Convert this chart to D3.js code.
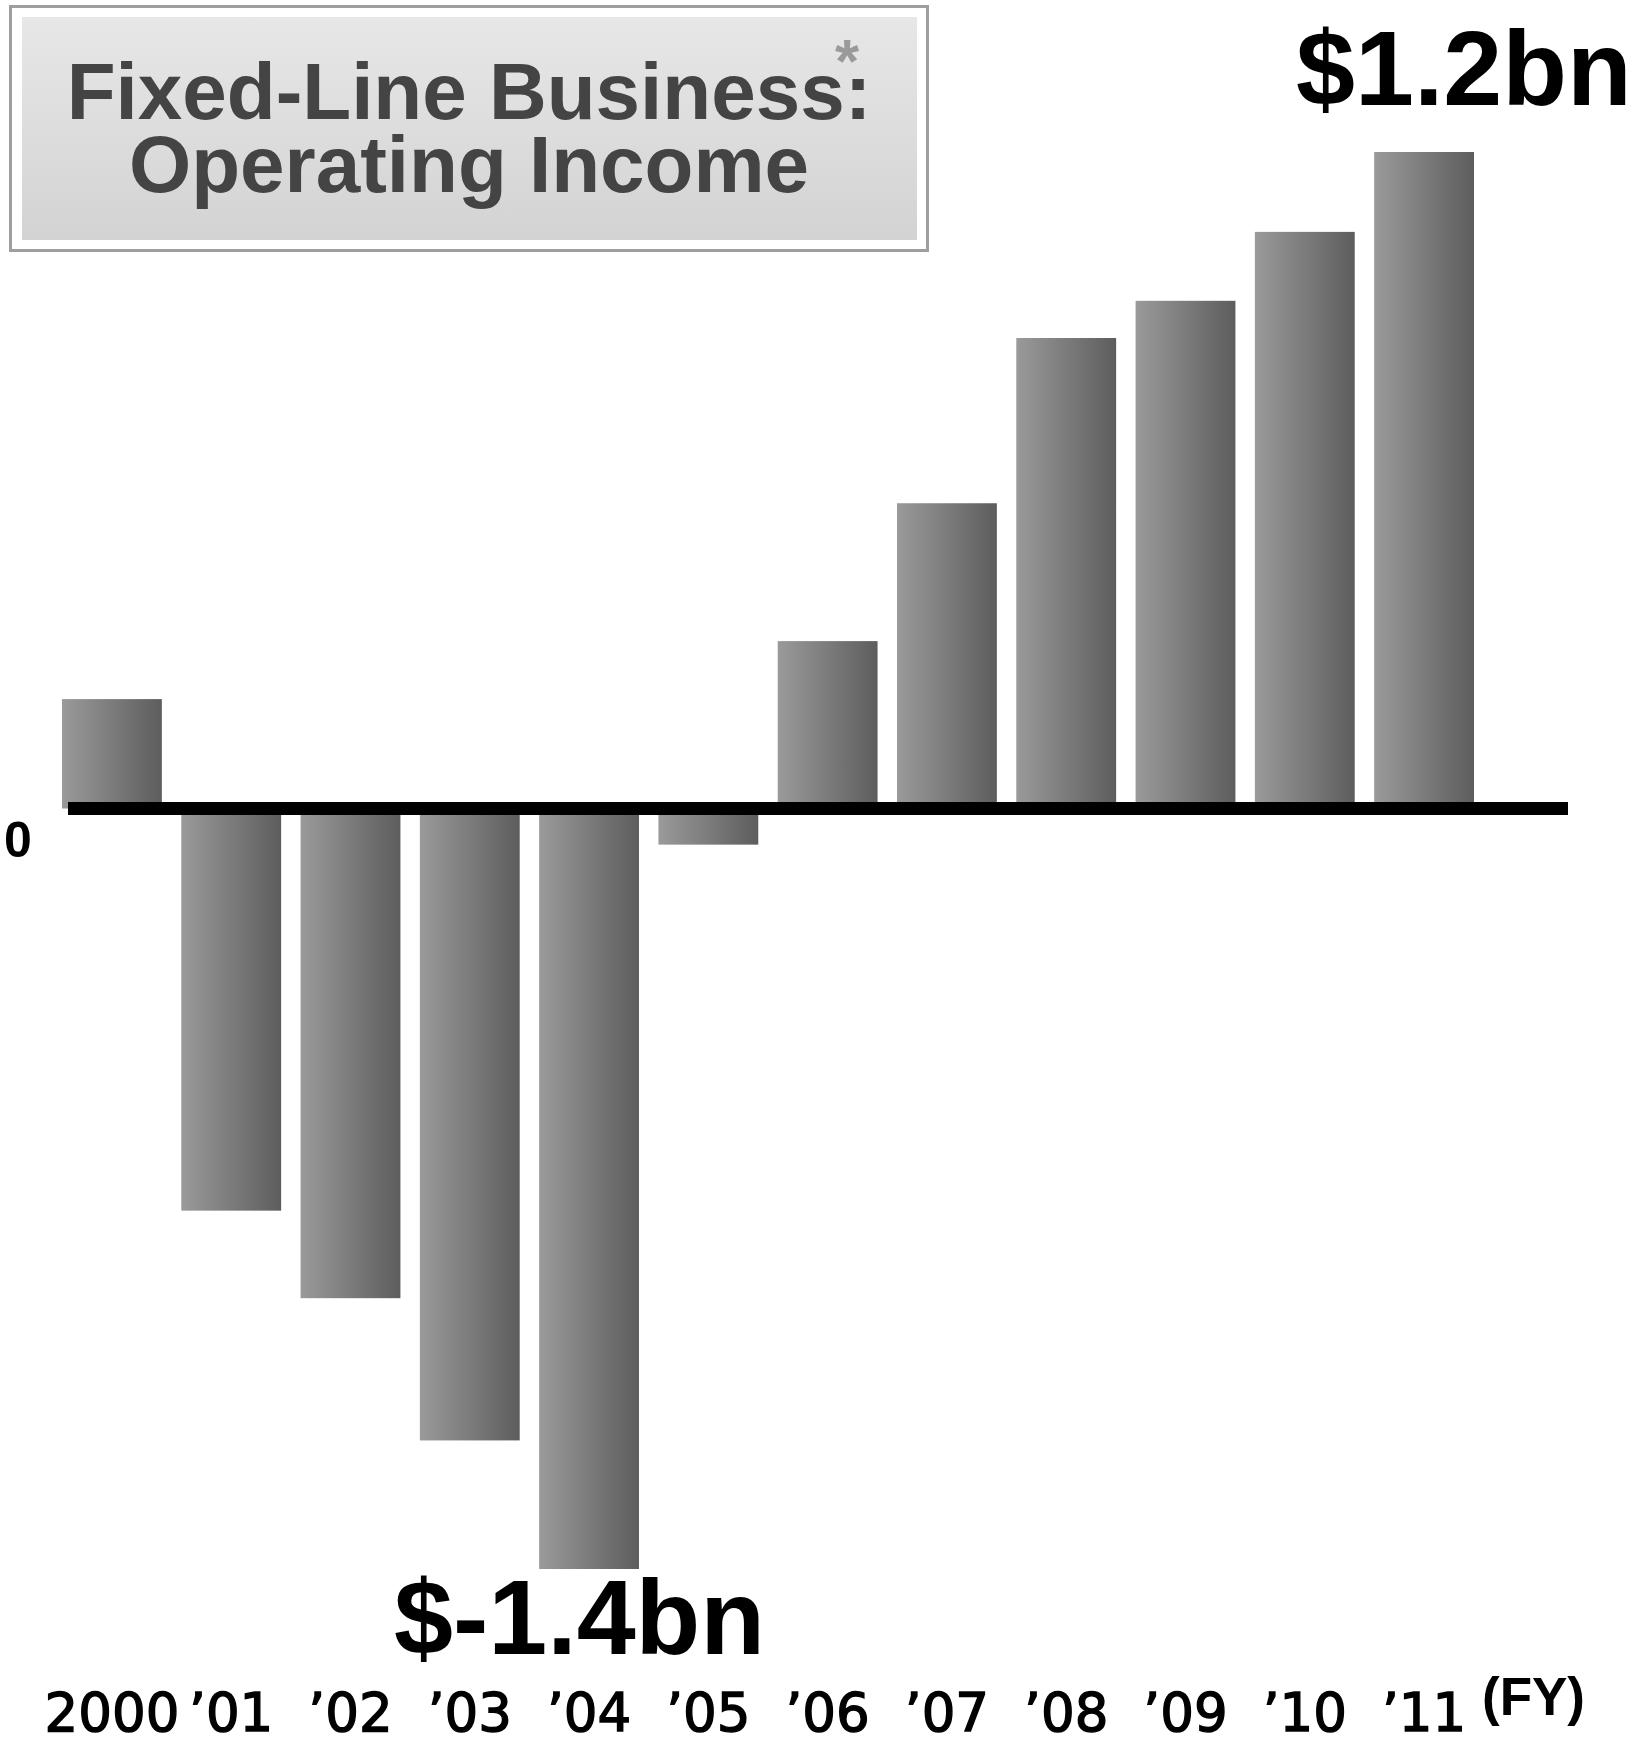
<!DOCTYPE html>
<html>
<head>
<meta charset="utf-8">
<script src="https://cdn.jsdelivr.net/npm/d3@7"></script>
<style>
  html, body { margin: 0; padding: 0; background: #ffffff; }
  svg { display: block; }
</style>
</head>
<body>
<svg id="chart" width="1639" height="1739"></svg>
<script>
// ---- data ----
const categories = ["2000", "\u201901", "\u201902", "\u201903", "\u201904", "\u201905",
                    "\u201906", "\u201907", "\u201908", "\u201909", "\u201910", "\u201911"];
const values = [0.20, -0.735, -0.895, -1.155, -1.39, -0.066, 0.306, 0.558, 0.86, 0.928, 1.054, 1.20];
const titleLines = ["Fixed-Line Business:", "Operating Income"];
const highLabel = "$1.2bn";
const lowLabel = "$-1.4bn";
const zeroLabel = "0";
const unitLabel = "(FY)";

// ---- drawing ----
const svg = d3.select("#chart");
const defs = svg.append("defs");

const barGrad = defs.append("linearGradient")
  .attr("id", "barGrad").attr("x1", "0").attr("x2", "1").attr("y1", "0").attr("y2", "0");
barGrad.append("stop").attr("offset", "0%").attr("stop-color", "#9a9a9a");
barGrad.append("stop").attr("offset", "100%").attr("stop-color", "#5d5d5d");

const boxGrad = defs.append("linearGradient")
  .attr("id", "boxGrad").attr("x1", "0").attr("x2", "0").attr("y1", "0").attr("y2", "1");
boxGrad.append("stop").attr("offset", "0%").attr("stop-color", "#e7e7e7");
boxGrad.append("stop").attr("offset", "100%").attr("stop-color", "#d3d3d3");

const x = d3.scaleBand()
  .domain(categories)
  .range([62, 1474])
  .paddingInner(0.163)
  .paddingOuter(0);

const y = d3.scaleLinear()
  .domain([-1.39, 1.2])
  .range([1569, 152]);

// bars
svg.append("g").selectAll("rect")
  .data(values)
  .join("rect")
  .attr("x", (d, i) => x(categories[i]))
  .attr("width", x.bandwidth())
  .attr("y", d => d >= 0 ? y(d) : y(0))
  .attr("height", d => Math.abs(y(d) - y(0)))
  .attr("fill", "url(#barGrad)");

// zero line
svg.append("line")
  .attr("x1", 68).attr("x2", 1568)
  .attr("y1", y(0)).attr("y2", y(0))
  .attr("stroke", "#000").attr("stroke-width", 13);

// zero label
svg.append("text")
  .attr("x", 4).attr("y", 857)
  .attr("font-family", "'Liberation Sans', Arial, sans-serif")
  .attr("font-weight", "bold").attr("font-size", 50)
  .attr("fill", "#000")
  .text(zeroLabel);

// x labels
svg.append("g").selectAll("text")
  .data(categories)
  .join("text")
  .attr("x", d => x(d) + x.bandwidth() / 2)
  .attr("y", 1731)
  .attr("text-anchor", "middle")
  .attr("font-family", "'DejaVu Sans', sans-serif")
  .attr("font-size", 53)
  .attr("fill", "#000")
  .attr("stroke", "#000").attr("stroke-width", 1.4)
  .text(d => d);

// (FY)
svg.append("text")
  .attr("x", 1482).attr("y", 1715)
  .attr("font-family", "'Liberation Sans', Arial, sans-serif")
  .attr("font-weight", "bold").attr("font-size", 53)
  .attr("fill", "#000")
  .text(unitLabel);

// annotations
svg.append("text")
  .attr("x", 1296).attr("y", 105)
  .attr("font-family", "'Liberation Sans', Arial, sans-serif")
  .attr("font-weight", "bold").attr("font-size", 106)
  .attr("fill", "#000")
  .text(highLabel);

svg.append("text")
  .attr("x", 394).attr("y", 1654)
  .attr("font-family", "'Liberation Sans', Arial, sans-serif")
  .attr("font-weight", "bold").attr("font-size", 106)
  .attr("fill", "#000")
  .text(lowLabel);

// title box
svg.append("rect")
  .attr("x", 10.5).attr("y", 6.5).attr("width", 917).attr("height", 244)
  .attr("fill", "#fff").attr("stroke", "#9e9e9e").attr("stroke-width", 3);
svg.append("rect")
  .attr("x", 22).attr("y", 17).attr("width", 895).attr("height", 223)
  .attr("fill", "url(#boxGrad)");

svg.append("g").selectAll("text")
  .data(titleLines)
  .join("text")
  .attr("x", 469)
  .attr("y", (d, i) => i === 0 ? 119 : 192)
  .attr("text-anchor", "middle")
  .attr("font-family", "'Liberation Sans', Arial, sans-serif")
  .attr("font-weight", "bold").attr("font-size", 80)
  .attr("fill", "#444444")
  .text(d => d);

svg.append("text")
  .attr("x", 847).attr("y", 82)
  .attr("text-anchor", "middle")
  .attr("font-family", "'Liberation Sans', Arial, sans-serif")
  .attr("font-weight", "bold").attr("font-size", 62)
  .attr("fill", "#9a9a9a")
  .text("*");
</script>
</body>
</html>
